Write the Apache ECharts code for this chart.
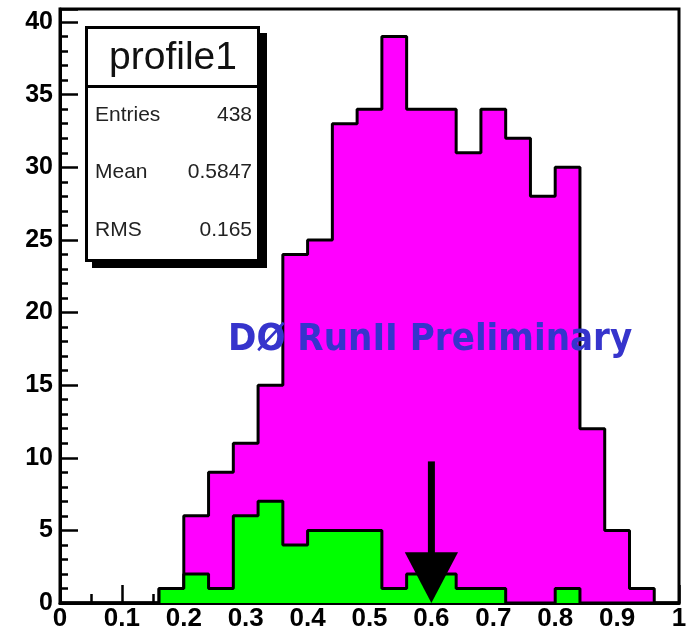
<!DOCTYPE html>
<html>
<head>
<meta charset="utf-8">
<script src="https://cdn.jsdelivr.net/npm/echarts@6/dist/echarts.min.js"></script>
<style>
  html, body { margin: 0; padding: 0; background: #ffffff; }
  #chart { width: 689px; height: 629px; }
</style>
</head>
<body>
<div id="chart"></div>
<script>
// Histogram binning (25 bins of width 0.04 between 0 and 1)
const binStarts = [0.00, 0.04, 0.08, 0.12, 0.16, 0.20, 0.24, 0.28, 0.32, 0.36,
                   0.40, 0.44, 0.48, 0.52, 0.56, 0.60, 0.64, 0.68, 0.72, 0.76,
                   0.80, 0.84, 0.88, 0.92, 0.96];
const binEnd = 1.0;

// Entries per bin: all candidates (magenta) and the selected subset (green)
const allCandidates = [0, 0, 0, 0, 1, 6, 9, 11, 15, 24,
                       25, 33, 34, 39, 34, 34, 31, 34, 32, 28,
                       30, 12, 5, 1, 0];
const selectedCandidates = [0, 0, 0, 0, 1, 2, 1, 6, 7, 4,
                            5, 5, 5, 1, 2, 2, 1, 1, 0, 0,
                            1, 0, 0, 0, 0];

// Cut position marked by the arrow
const cutValue = 0.6;

// Statistics box contents
const statsTitle = 'profile1';
const statsNames = ['Entries', 'Mean', 'RMS'];
const statsValues = ['438', '0.5847', '0.165'];

const watermark = 'DØ RunII Preliminary';

// Axis ranges
const xMin = 0, xMax = 1, xStep = 0.1;
const yMin = 0, yMax = 40.9, yStep = 5;

// Turn bin contents into step-outline points for a stepped line series
function stepPoints(values) {
  const pts = binStarts.map((x, i) => [x, values[i]]);
  pts.push([binEnd, values[values.length - 1]]);
  return pts;
}

const chart = echarts.init(document.getElementById('chart'), null, { renderer: 'canvas' });

const axisFont = '"Liberation Sans", Arial, Helvetica, sans-serif';
const statRowY = [115, 172, 230];

const option = {
  animation: false,
  backgroundColor: '#ffffff',
  grid: {
    left: 60, right: 10, top: 9, bottom: 26,
    show: true, borderColor: '#000000', borderWidth: 3,
    backgroundColor: 'transparent',
    containLabel: false,
    outerBoundsMode: 'none'
  },
  xAxis: {
    type: 'value', min: xMin, max: xMax, interval: xStep,
    axisLine: { show: true, onZero: false, lineStyle: { color: '#000', width: 3 } },
    axisTick: { show: true, inside: true, length: 18, lineStyle: { color: '#000', width: 2.5 } },
    minorTick: { show: true, splitNumber: 2, length: 9, lineStyle: { color: '#000', width: 2.5 } },
    splitLine: { show: false },
    axisLabel: {
      show: true, margin: 3, color: '#000', fontSize: 26, fontWeight: 'bold',
      fontFamily: axisFont,
      formatter: v => String(Math.round(v * 10) / 10)
    }
  },
  yAxis: [
    {
      type: 'value', min: yMin, max: yMax, interval: yStep, position: 'left',
      axisLine: { show: true, onZero: false, lineStyle: { color: '#000', width: 3 } },
      axisTick: { show: true, inside: true, length: 18, lineStyle: { color: '#000', width: 2.5 } },
      splitLine: { show: false },
      axisLabel: {
        show: true, margin: 7, color: '#000', fontSize: 25, fontWeight: 'bold',
        fontFamily: axisFont,
        formatter: v => (Math.abs(v % yStep) < 1e-6 ? String(v) : '')
      }
    },
    {
      // unit ticks between the labelled ones
      type: 'value', min: yMin, max: yMax, interval: 1, position: 'left', offset: 0,
      axisLine: { show: false },
      axisTick: { show: true, inside: true, length: 8, lineStyle: { color: '#000', width: 2.5 } },
      splitLine: { show: false },
      axisLabel: { show: false }
    }
  ],
  series: [
    {
      name: 'all',
      type: 'line',
      step: 'end',
      data: stepPoints(allCandidates),
      symbol: 'none',
      lineStyle: { color: '#000000', width: 3 },
      areaStyle: { color: '#ff00ff', opacity: 1 },
      z: 2
    },
    {
      name: 'selected',
      type: 'line',
      step: 'end',
      data: stepPoints(selectedCandidates),
      symbol: 'none',
      lineStyle: { color: '#000000', width: 3 },
      areaStyle: { color: '#00ff00', opacity: 1 },
      z: 3
    },
    {
      name: 'cut',
      type: 'custom',
      clip: false,
      z: 6,
      data: [[cutValue]],
      renderItem: (params, api) => {
        const x = api.value(0);
        const base = api.coord([x, 0]);
        const shaftTop = api.coord([x, 9.75]);
        const headTop = api.coord([x, 3.5]);
        const halfW = api.size([0.043, 0])[0];
        return {
          type: 'group',
          children: [
            {
              type: 'rect',
              shape: { x: base[0] - 3.5, y: shaftTop[1], width: 7, height: headTop[1] - shaftTop[1] + 2 },
              style: { fill: '#000000' }
            },
            {
              type: 'polygon',
              shape: { points: [[base[0] - halfW, headTop[1]], [base[0] + halfW, headTop[1]], [base[0], base[1]]] },
              style: { fill: '#000000' }
            }
          ]
        };
      }
    }
  ],
  graphic: [
    {
      type: 'text',
      z: 50,
      x: 228, y: 340, scaleX: 0.9,
      style: {
        text: watermark,
        x: 0, y: 0,
        font: 'bold 38px "DejaVu Sans", Verdana, sans-serif',
        fill: '#3634cc',
        textAlign: 'left',
        textVerticalAlign: 'middle'
      }
    },
    {
      type: 'group',
      z: 60,
      children: [
        { type: 'rect', shape: { x: 92, y: 33, width: 175, height: 235 }, style: { fill: '#000000' } },
        { type: 'rect', shape: { x: 86.5, y: 27.5, width: 172, height: 233 },
          style: { fill: '#ffffff', stroke: '#000000', lineWidth: 3 } },
        { type: 'line', shape: { x1: 85, y1: 86.5, x2: 260, y2: 86.5 },
          style: { stroke: '#000000', lineWidth: 3 } },
        { type: 'text', x: 173, y: 58,
          style: { text: statsTitle, font: '39px "Liberation Sans", Arial, sans-serif', fill: '#111',
                   textAlign: 'center', textVerticalAlign: 'middle' } }
      ].concat(statsNames.map((n, i) => ({
        type: 'text', x: 95, y: statRowY[i],
        style: { text: n, font: '21px "Liberation Sans", Arial, sans-serif', fill: '#222',
                 textAlign: 'left', textVerticalAlign: 'middle' }
      }))).concat(statsValues.map((v, i) => ({
        type: 'text', x: 252, y: statRowY[i],
        style: { text: v, font: '21px "Liberation Sans", Arial, sans-serif', fill: '#222',
                 textAlign: 'right', textVerticalAlign: 'middle' }
      })))
    }
  ]
};

chart.setOption(option);
</script>
</body>
</html>
